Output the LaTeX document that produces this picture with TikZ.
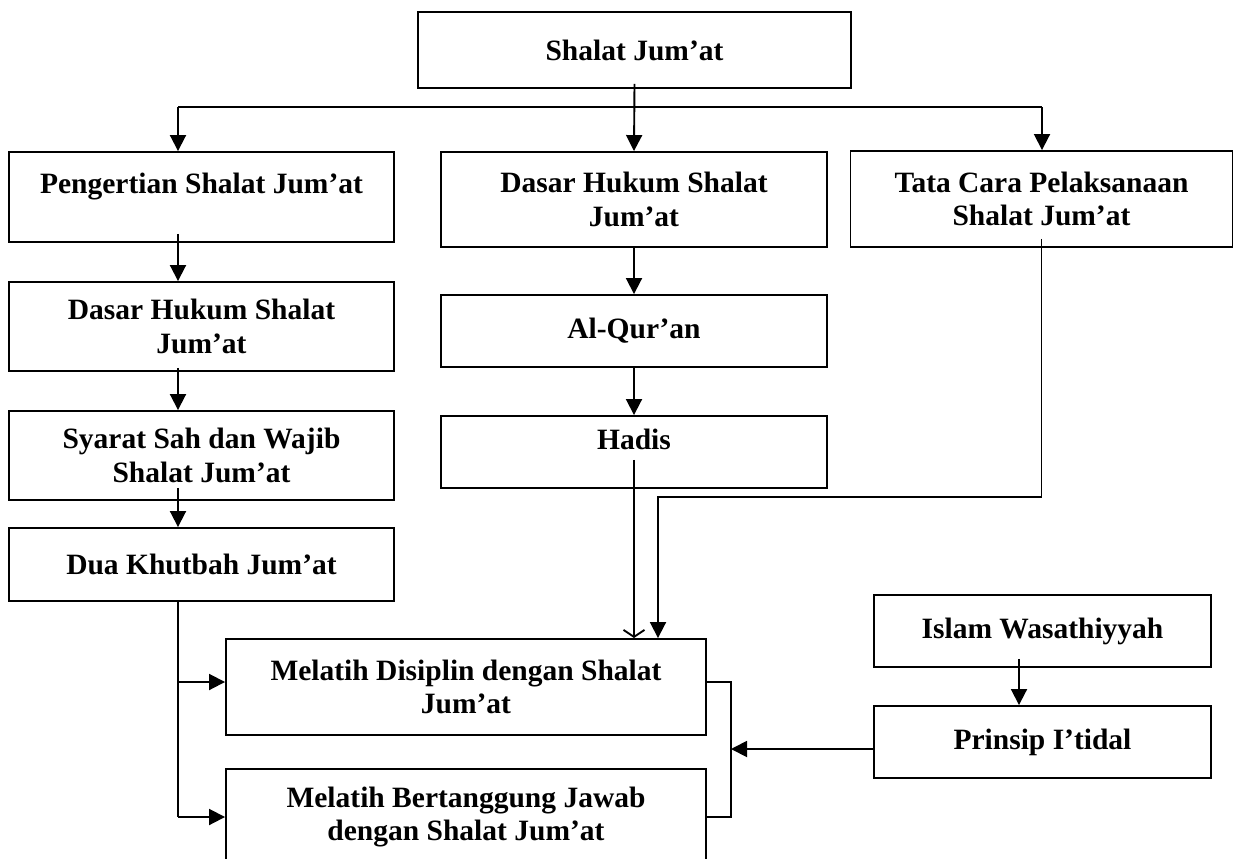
\documentclass[tikz,border=0pt]{standalone}
\usepackage{fontspec}
\setmainfont{Liberation Serif}
\usetikzlibrary{arrows.meta,calc}
\begin{document}
\begin{tikzpicture}[x=1pt,y=-1pt,
  box/.style={draw, line width=1.9pt, inner sep=0pt, align=center,
    font=\bfseries\fontsize{29.5}{33.5}\selectfont},
  arr/.style={line width=1.9pt, -{Triangle[length=16pt,width=16pt]}},
  barb/.style={line width=1.9pt, -{Straight Barb[length=7pt,width=21pt]}},
  ln/.style={line width=1.9pt}]
\useasboundingbox (0,0) rectangle (1234,859);
\clip (0,0) rectangle (1234,859);
% boxes
\node[box, minimum width=433pt, minimum height=76pt] (top) at (634.5,50) {Shalat Jum’at};
\node[box, minimum width=385pt, minimum height=90pt] (peng) at (201.5,197) {Pengertian Shalat Jum’at\\[-16pt]\strut};
\node[box, minimum width=386pt, minimum height=95pt] (dasarM) at (634,199.5) {Dasar Hukum Shalat\\Jum’at};
\node[box, minimum width=382pt, minimum height=96pt] (tata) at (1041.5,199) {Tata Cara Pelaksanaan\\Shalat Jum’at};
\node[box, minimum width=385pt, minimum height=89pt] (dasarL) at (201.5,326.5) {Dasar Hukum Shalat\\Jum’at};
\node[box, minimum width=385pt, minimum height=89pt] (syarat) at (201.5,455.5) {Syarat Sah dan Wajib\\Shalat Jum’at};
\node[box, minimum width=385pt, minimum height=73pt] (dua) at (201.5,564.5) {Dua Khutbah Jum’at};
\node[box, minimum width=386pt, minimum height=72pt] (quran) at (634,331) {Al-Qur’an};
\node[box, minimum width=386pt, minimum height=72pt] (hadis) at (634,452) {Hadis\\[-18pt]\strut};
\node[box, minimum width=480pt, minimum height=96pt] (disiplin) at (466,687) {Melatih Disiplin dengan Shalat\\Jum’at};
\node[box, minimum width=480pt, minimum height=96pt] (tanggung) at (466,817) {Melatih Bertanggung Jawab\\dengan Shalat Jum’at};
\node[box, minimum width=337pt, minimum height=72pt] (islam) at (1042.5,631) {Islam Wasathiyyah};
\node[box, minimum width=337pt, minimum height=72pt] (prinsip) at (1042.5,742) {Prinsip I’tidal};
% helper coordinates
\coordinate (hL) at (178,107);
\coordinate (hR) at (1042,107);
\coordinate (lx) at (178,0);
\coordinate (b1) at (178,682);
\coordinate (b2) at (178,817);
\coordinate (k1) at (731,682);
\coordinate (k2) at (731,817);
\coordinate (t2) at (658,497);
% top distribution
\draw[arr] ($(top.south)+(0,-5)$) -- (dasarM.north);
\draw[ln] (hL) -- (hR);
\draw[arr] (hL) -- (hL |- peng.north);
\draw[arr] (hR) -- (hR |- tata.north);
% left column
\draw[arr] ($(peng.south -| lx)+(0,-9)$) -- (dasarL.north -| lx);
\draw[arr] ($(dasarL.south -| lx)+(0,-4)$) -- (syarat.north -| lx);
\draw[arr] ($(syarat.south -| lx)+(0,-13)$) -- (dua.north -| lx);
\draw[ln] (dua.south -| lx) -- (b2);
\draw[arr] (b1) -- (b1 -| disiplin.west);
\draw[arr] (b2) -- (b2 -| tanggung.west);
% middle column
\draw[arr] (dasarM.south) -- (quran.north);
\draw[arr] (quran.south) -- (hadis.north);
\draw[barb] ($(hadis.south)+(0,-29)$) -- (hadis.south |- disiplin.north);
% tata cara
\draw[arr] ($(tata.south)+(0,-9)$) |- (t2) -- (t2 |- disiplin.north);
% right side
\draw[arr] ($(islam.south)+(-23.5,-9)$) -- ($(prinsip.north)+(-23.5,0)$);
\draw[ln] (disiplin.east |- k1) -- (k1) -- (k2) -- (tanggung.east |- k2);
\coordinate (pa) at ($(prinsip.west)+(0,7)$);
\draw[arr] (pa) -- (pa -| k1);
\end{tikzpicture}
\end{document}
